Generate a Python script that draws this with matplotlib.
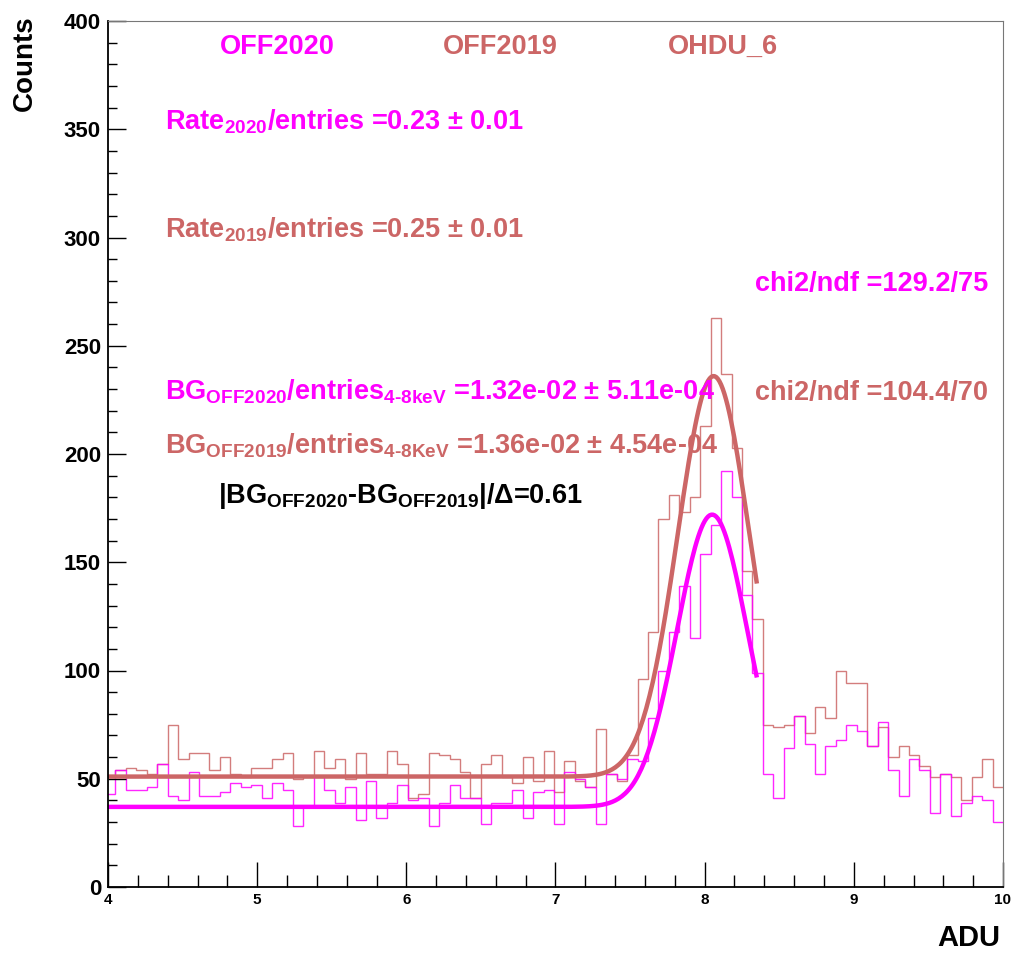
import numpy as np
import matplotlib.pyplot as plt

plt.rcParams['font.family'] = ['Liberation Sans', 'DejaVu Sans']
plt.rcParams['font.weight'] = 'bold'
plt.rcParams['mathtext.fontset'] = 'custom'
plt.rcParams['mathtext.rm'] = 'Liberation Sans:bold'
plt.rcParams['mathtext.bf'] = 'Liberation Sans:bold'
plt.rcParams['mathtext.it'] = 'Liberation Sans:bold'
plt.rcParams['mathtext.default'] = 'bf'

# ---- data ----------------------------------------------------------------
BIN_LO = 3.98
BIN_W = 0.07

counts_2019 = [51, 54, 55, 54, 52, 57, 75, 59, 62, 62,
               54, 60, 52, 51, 55, 55, 59, 62, 50, 51,
               63, 55, 59, 50, 62, 52, 52, 63, 57, 41,
               43, 62, 61, 59, 53, 41, 57, 61, 51, 48,
               60, 49, 63, 44, 58, 49, 46, 73, 52, 49,
               61, 96, 118, 170, 181, 173, 180, 213, 263, 237,
               203, 146, 124, 75, 74, 75, 79, 71, 83, 78,
               100, 94, 94, 65, 74, 60, 65, 61, 56, 51,
               52, 51, 40, 51, 59, 46]

counts_2020 = [43, 54, 45, 45, 46, 57, 42, 40, 53, 42,
               42, 44, 48, 46, 47, 41, 48, 45, 28, 37,
               51, 45, 39, 46, 31, 49, 32, 39, 47, 40,
               41, 28, 39, 47, 41, 41, 29, 39, 39, 45,
               32, 44, 45, 29, 53, 50, 46, 29, 52, 50,
               59, 58, 78, 100, 118, 139, 115, 154, 167, 192,
               180, 135, 99, 52, 41, 64, 79, 66, 52, 65,
               68, 75, 72, 65, 76, 54, 42, 59, 54, 34,
               52, 33, 39, 42, 40, 30]

# gaussian + constant fits: (const, amplitude, mean, sigma)
fit_2019 = (51.0, 185.0, 8.06, 0.24)
fit_2020 = (37.0, 135.0, 8.05, 0.235)
FIT_RANGE = (4.0, 8.35)

MAGENTA = "#FF00FF"
BROWN = "#CC6666"

edges = BIN_LO + BIN_W * np.arange(len(counts_2019) + 1)


def gaus_const(x, p):
    c, a, m, s = p
    return c + a * np.exp(-0.5 * ((x - m) / s) ** 2)


# ---- plot ----------------------------------------------------------------
W, H = 1019, 956
fig = plt.figure(figsize=(W / 100, H / 100), dpi=100)
ax = fig.add_axes([108 / W, 1 - 887 / H, (1003 - 108) / W, (887 - 21) / H])

ax.stairs(counts_2019, edges, baseline=None, color=BROWN, lw=1.0, alpha=0.85)
ax.stairs(counts_2020, edges, baseline=None, color=MAGENTA, lw=1.0, alpha=0.85)

xf = np.linspace(FIT_RANGE[0], FIT_RANGE[1], 400)
ax.plot(xf, gaus_const(xf, fit_2019), color=BROWN, lw=3.2, solid_capstyle='butt')
ax.plot(xf, gaus_const(xf, fit_2020), color=MAGENTA, lw=3.2, solid_capstyle='butt')

ax.set_xlim(4, 10)
ax.set_ylim(0, 400)
ax.set_xticks(np.arange(4, 11, 1))
ax.set_xticks(np.arange(4, 10.01, 0.2), minor=True)
ax.set_yticks(np.arange(0, 401, 50))
ax.set_yticks(np.arange(0, 401, 10), minor=True)

ax.tick_params(axis='x', which='major', direction='in', length=18, width=1.0,
               labelsize=11, pad=4)
ax.tick_params(axis='x', which='minor', direction='in', length=9, width=1.0)
ax.tick_params(axis='y', which='major', direction='in', length=13, width=1.0,
               labelsize=16, pad=5)
ax.tick_params(axis='y', which='minor', direction='in', length=6.5, width=1.0)
for lab in ax.get_xticklabels() + ax.get_yticklabels():
    lab.set_fontweight('bold')

ax.spines['left'].set_linewidth(1.3)
ax.spines['bottom'].set_linewidth(1.3)
ax.spines['top'].set_color('#777777')
ax.spines['right'].set_color('#777777')

fig.text(25 / W, 1 - 15 / H, "Counts", rotation=90, ha='center', va='top',
         fontsize=20, fontweight='bold')
fig.text(1000 / W, 1 - 952 / H, "ADU", ha='right', va='bottom',
         fontsize=21, fontweight='bold')


def label(x, y, s, color, size=19.5):
    fig.text(x / W, 1 - y / H, s, ha='left', va='baseline', color=color,
             fontsize=size, fontweight='bold')


label(220, 54, "OFF2020", MAGENTA)
label(443, 54, "OFF2019", BROWN)
label(668, 54, "OHDU_6", BROWN)
label(165, 129, r"Rate$_{2020}$/entries =0.23 ± 0.01", MAGENTA)
label(165, 237, r"Rate$_{2019}$/entries =0.25 ± 0.01", BROWN)
label(755, 291, "chi2/ndf =129.2/75", MAGENTA)
label(165, 400, r"BG$_{OFF2020}$/entries$_{4\text{-}8keV}$ =1.32e-02 ± 5.11e-04", MAGENTA)
label(755, 400, "chi2/ndf =104.4/70", BROWN)
label(165, 453, r"BG$_{OFF2019}$/entries$_{4\text{-}8KeV}$ =1.36e-02 ± 4.54e-04", BROWN)
label(218, 503, r"|BG$_{OFF2020}$-BG$_{OFF2019}$|/Δ=0.61", "black")

fig.savefig("out.png", dpi=100)
